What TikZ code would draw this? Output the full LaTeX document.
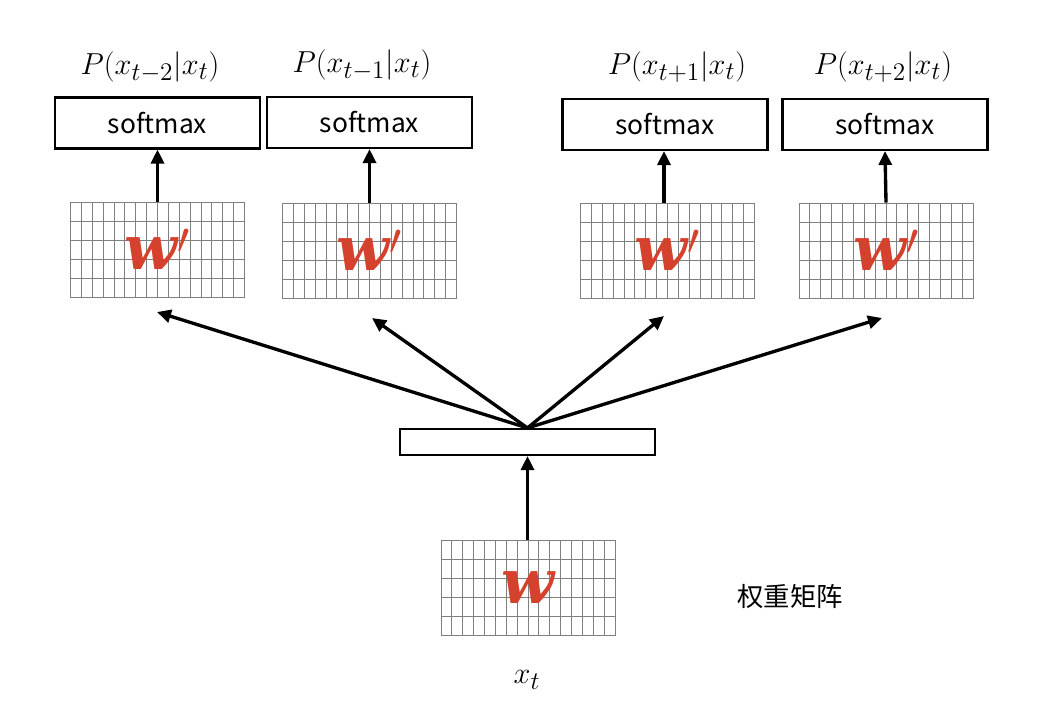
\documentclass[tikz,border=0pt]{standalone}
\usepackage{amsmath,amssymb}
\usepackage{fontspec}
\usepackage{tikz}
\usetikzlibrary{arrows.meta,positioning,calc}
\newfontfamily\cjk{Noto Sans CJK SC}
\newfontfamily\wfont{DejaVu Serif}
\definecolor{wred}{HTML}{D4412C}
\definecolor{gline}{HTML}{808080}

\begin{document}
\begin{tikzpicture}[x=0.02cm,y=-0.02cm,
  sm/.style={draw,line width=1.2pt,minimum width=4.1cm,minimum height=1.02cm,inner sep=0pt,font=\cjk\fontsize{15}{17}\selectfont},
  mat/.style={draw=gline,line width=0.55pt,minimum width=3.48cm,minimum height=1.9cm,inner sep=0pt,
    text=wred,font=\wfont\bfseries\itshape\fontsize{35}{37}\selectfont,
    path picture={
      \foreach \i in {1,...,15}
        \draw[gline,line width=0.55pt] ($(path picture bounding box.south west)!\i/16!(path picture bounding box.south east)$)
          -- ($(path picture bounding box.north west)!\i/16!(path picture bounding box.north east)$);
      \foreach \j in {1,...,4}
        \draw[gline,line width=0.55pt] ($(path picture bounding box.south west)!\j/5!(path picture bounding box.north west)$)
          -- ($(path picture bounding box.south east)!\j/5!(path picture bounding box.north east)$);
    }},
  hid/.style={draw,line width=1.2pt,minimum width=5.1cm,minimum height=0.52cm,inner sep=0pt},
  lbl/.style={font=\fontsize{19}{22}\selectfont},
  a/.style={-{Triangle[length=2.8mm,width=2.6mm]},line width=1.9pt}]
\useasboundingbox (0,0) rectangle (1040,706);
% output side
\node[sm] (s1) at (157.5,123) {softmax};
\node[sm] (s2) at (369.5,122.5) {softmax};
\node[sm] (s3) at (665,124.5) {softmax};
\node[sm] (s4) at (885,124.5) {softmax};
\node[lbl] (p1) at (150,67) {$P(x_{t-2}|x_t)$};
\node[lbl] (p2) at (362,65) {$P(x_{t-1}|x_t)$};
\node[lbl] (p3) at (677,67) {$P(x_{t+1}|x_t)$};
\node[lbl] (p4) at (883,67) {$P(x_{t+2}|x_t)$};
\node[mat] (g1) at (157.5,249.5) {w$'$};
\node[mat] (g2) at (369.5,250.5) {w$'$};
\node[mat] (g3) at (667.5,250.5) {w$'$};
\node[mat] (g4) at (886,250.5) {w$'$};
% input side
\node[hid] (h) at (527.5,442) {};
\node[mat] (g0) at (528,588) {w};
\node[lbl] (xt) at (527,680) {$x_t$};
\node[font=\cjk\fontsize{15}{18}\selectfont] (cap) at (790,597) {权重矩阵};
\coordinate (f1) at (157,312);
\coordinate (f2) at (372,318);
\coordinate (f3) at (664,316);
\coordinate (f4) at (882,318);
\draw[a] (g1.north) -- (s1.south);
\draw[a] (g2.north) -- (s2.south);
\draw[a] (g3.north -| 664,0) -- (s3.south -| 664,0);
\draw[a] (g4.north) -- (s4.south);
\draw[a] (g0.north -| h.north) -- (h.south);
\foreach \f in {f1,f2,f3,f4}
  \draw[a] (h.north) -- (\f);
\end{tikzpicture}
\end{document}
